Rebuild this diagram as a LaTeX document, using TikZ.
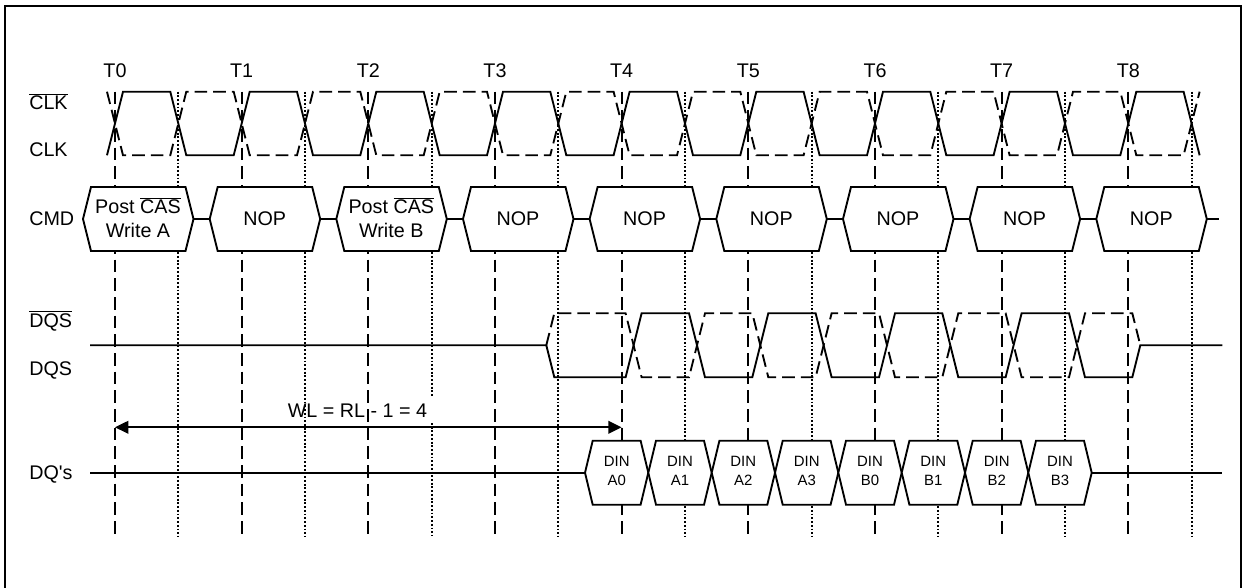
\documentclass[tikz,border=0pt]{standalone}
\usepackage{fontspec}
\setmainfont{Liberation Sans}
\usepackage{tikz}
\usetikzlibrary{arrows.meta}
\newcommand{\barsig}[1]{$\overline{\mbox{#1}}$}

\begin{document}
\begin{tikzpicture}[x=0.75pt,y=0.75pt,yscale=-1,xscale=1,
  sigline/.style={line width=1.4pt, line join=miter},
  sigdash/.style={line width=1.4pt, dash pattern=on 9.5pt off 4.5pt},
  tickline/.style={line width=1.4pt, dash pattern=on 9.5pt off 4.5pt},
  halfline/.style={line width=1.4pt, dash pattern=on 1.4pt off 1.4pt},
  busbox/.style={line width=1.4pt, fill=white, line join=miter},
  lbl/.style={inner sep=0.75pt, font=\fontsize{14.8}{17.5}\selectfont},
  cmdlbl/.style={lbl, align=center},
  dinlbl/.style={inner sep=0.75pt, align=center, font=\fontsize{11.2}{14.25}\selectfont},
  wlarrow/.style={line width=1.4pt, {Triangle[length=10pt,width=9.5pt]}-{Triangle[length=10pt,width=9.5pt]}}]
\useasboundingbox (0,0) rectangle (1244,588);

%Frame
\draw [line width=2pt] (5,588) -- (5,6) -- (1241,6) -- (1241,588) ;

%Clock edge lines
\draw [tickline] (115,91.7) -- (115,536) ;
\draw [halfline] (178.3,91.7) -- (178.3,536) ;
\draw [tickline] (241.7,91.7) -- (241.7,536) ;
\draw [halfline] (305,91.7) -- (305,536) ;
\draw [tickline] (368.3,91.7) -- (368.3,536) ;
\draw [halfline] (431.7,91.7) -- (431.7,396.7) ;
\draw [halfline] (431.7,423) -- (431.7,536) ;
\draw [tickline] (495,91.7) -- (495,536) ;
\draw [halfline] (558.3,91.7) -- (558.3,536) ;
\draw [tickline] (621.6,91.7) -- (621.6,536) ;
\draw [halfline] (685,91.7) -- (685,536) ;
\draw [tickline] (748.3,91.7) -- (748.3,536) ;
\draw [halfline] (811.6,91.7) -- (811.6,536) ;
\draw [tickline] (875,91.7) -- (875,536) ;
\draw [halfline] (938.3,91.7) -- (938.3,536) ;
\draw [tickline] (1001.6,91.7) -- (1001.6,536) ;
\draw [halfline] (1065,91.7) -- (1065,536) ;
\draw [tickline] (1128.3,91.7) -- (1128.3,536) ;
\draw [halfline] (1191.6,91.7) -- (1191.6,536) ;

%CLK (solid)
\draw [sigline] (107,155.3) -- (123,91.7) -- (170.3,91.7) -- (186.3,155.3) -- (233.7,155.3) -- (249.7,91.7) -- (297,91.7) -- (313,155.3) -- (360.3,155.3) -- (376.3,91.7) -- (423.7,91.7) -- (439.7,155.3) -- (487,155.3) -- (503,91.7) -- (550.3,91.7) -- (566.3,155.3) -- (613.6,155.3) -- (629.6,91.7) -- (677,91.7) -- (693,155.3) -- (740.3,155.3) -- (756.3,91.7) -- (803.6,91.7) -- (819.6,155.3) -- (867,155.3) -- (883,91.7) -- (930.3,91.7) -- (946.3,155.3) -- (993.6,155.3) -- (1009.6,91.7) -- (1057,91.7) -- (1073,155.3) -- (1120.3,155.3) -- (1136.3,91.7) -- (1183.6,91.7) -- (1199.6,155.3) ;
%CLK (dashed)
\draw [sigdash] (107,91.7) -- (123,155.3) -- (170.3,155.3) -- (186.3,91.7) -- (233.7,91.7) -- (249.7,155.3) -- (297,155.3) -- (313,91.7) -- (360.3,91.7) -- (376.3,155.3) -- (423.7,155.3) -- (439.7,91.7) -- (487,91.7) -- (503,155.3) -- (550.3,155.3) -- (566.3,91.7) -- (613.6,91.7) -- (629.6,155.3) -- (677,155.3) -- (693,91.7) -- (740.3,91.7) -- (756.3,155.3) -- (803.6,155.3) -- (819.6,91.7) -- (867,91.7) -- (883,155.3) -- (930.3,155.3) -- (946.3,91.7) -- (993.6,91.7) -- (1009.6,155.3) -- (1057,155.3) -- (1073,91.7) -- (1120.3,91.7) -- (1136.3,155.3) -- (1183.6,155.3) -- (1199.6,91.7) ;

%CMD bus
\draw [sigline] (83,219) -- (1219,219) ;
\draw [busbox] (83,219) -- (91,187) -- (185.5,187) -- (193.5,219) -- (185.5,251) -- (91,251) -- cycle ;
\draw [busbox] (209.7,219) -- (217.7,187) -- (312.2,187) -- (320.2,219) -- (312.2,251) -- (217.7,251) -- cycle ;
\draw [busbox] (336.3,219) -- (344.3,187) -- (438.8,187) -- (446.8,219) -- (438.8,251) -- (344.3,251) -- cycle ;
\draw [busbox] (463,219) -- (471,187) -- (565.5,187) -- (573.5,219) -- (565.5,251) -- (471,251) -- cycle ;
\draw [busbox] (589.6,219) -- (597.6,187) -- (692.1,187) -- (700.1,219) -- (692.1,251) -- (597.6,251) -- cycle ;
\draw [busbox] (716.3,219) -- (724.3,187) -- (818.8,187) -- (826.8,219) -- (818.8,251) -- (724.3,251) -- cycle ;
\draw [busbox] (843,219) -- (851,187) -- (945.5,187) -- (953.5,219) -- (945.5,251) -- (851,251) -- cycle ;
\draw [busbox] (969.6,219) -- (977.6,187) -- (1072.1,187) -- (1080.1,219) -- (1072.1,251) -- (977.6,251) -- cycle ;
\draw [busbox] (1096.3,219) -- (1104.3,187) -- (1198.8,187) -- (1206.8,219) -- (1198.8,251) -- (1104.3,251) -- cycle ;

% Text Node
\node (cmd0) [cmdlbl] at (138,217.5) {Post \barsig{CAS}\\Write A};
\node (cmd1) [cmdlbl] at (264.7,219) {NOP};
\node (cmd2) [cmdlbl] at (391.3,217.5) {Post \barsig{CAS}\\Write B};
\node (cmd3) [cmdlbl] at (518,219) {NOP};
\node (cmd4) [cmdlbl] at (644.6,219) {NOP};
\node (cmd5) [cmdlbl] at (771.3,219) {NOP};
\node (cmd6) [cmdlbl] at (898,219) {NOP};
\node (cmd7) [cmdlbl] at (1024.6,219) {NOP};
\node (cmd8) [cmdlbl] at (1151.3,219) {NOP};

%DQS (solid)
\draw [sigline] (90,345.3) -- (546.3,345.3) -- (554.3,377.3) -- (625.6,377.3) -- (641.6,313.3) -- (689,313.3) -- (705,377.3) -- (752.3,377.3) -- (768.3,313.3) -- (815.6,313.3) -- (831.6,377.3) -- (879,377.3) -- (895,313.3) -- (942.3,313.3) -- (958.3,377.3) -- (1005.6,377.3) -- (1021.6,313.3) -- (1069,313.3) -- (1085,377.3) -- (1132.3,377.3) -- (1140.3,345.3) -- (1222.3,345.3) ;
%DQS (dashed)
\draw [sigdash] (546.3,345.3) -- (554.3,313.3) -- (625.6,313.3) -- (641.6,377.3) -- (689,377.3) -- (705,313.3) -- (752.3,313.3) -- (768.3,377.3) -- (815.6,377.3) -- (831.6,313.3) -- (879,313.3) -- (895,377.3) -- (942.3,377.3) -- (958.3,313.3) -- (1005.6,313.3) -- (1021.6,377.3) -- (1069,377.3) -- (1085,313.3) -- (1132.3,313.3) -- (1140.3,345.3) ;

%DQ bus
\draw [sigline] (90,472.7) -- (1222.3,472.7) ;
\draw [busbox] (585,472.7) -- (592.7,440.7) -- (640.6,440.7) -- (648.3,472.7) -- (640.6,504.7) -- (592.7,504.7) -- cycle ;
\draw [busbox] (648.3,472.7) -- (656,440.7) -- (704,440.7) -- (711.7,472.7) -- (704,504.7) -- (656,504.7) -- cycle ;
\draw [busbox] (711.7,472.7) -- (719.4,440.7) -- (767.3,440.7) -- (775,472.7) -- (767.3,504.7) -- (719.4,504.7) -- cycle ;
\draw [busbox] (775,472.7) -- (782.7,440.7) -- (830.6,440.7) -- (838.3,472.7) -- (830.6,504.7) -- (782.7,504.7) -- cycle ;
\draw [busbox] (838.3,472.7) -- (846,440.7) -- (894,440.7) -- (901.7,472.7) -- (894,504.7) -- (846,504.7) -- cycle ;
\draw [busbox] (901.7,472.7) -- (909.4,440.7) -- (957.3,440.7) -- (965,472.7) -- (957.3,504.7) -- (909.4,504.7) -- cycle ;
\draw [busbox] (965,472.7) -- (972.7,440.7) -- (1020.6,440.7) -- (1028.3,472.7) -- (1020.6,504.7) -- (972.7,504.7) -- cycle ;
\draw [busbox] (1028.3,472.7) -- (1036,440.7) -- (1084,440.7) -- (1091.7,472.7) -- (1084,504.7) -- (1036,504.7) -- cycle ;

% Text Node
\node (din0) [dinlbl] at (616.7,471) {DIN\\A0};
\node (din1) [dinlbl] at (680,471) {DIN\\A1};
\node (din2) [dinlbl] at (743.3,471) {DIN\\A2};
\node (din3) [dinlbl] at (806.7,471) {DIN\\A3};
\node (din4) [dinlbl] at (870,471) {DIN\\B0};
\node (din5) [dinlbl] at (933.3,471) {DIN\\B1};
\node (din6) [dinlbl] at (996.7,471) {DIN\\B2};
\node (din7) [dinlbl] at (1060,471) {DIN\\B3};

%Write latency
\coordinate (wlstart) at (115,427.3);
\coordinate (wlend) at (621.6,427.3);
\draw [wlarrow] (wlstart) -- (wlend) ;
\node (wl) [lbl, anchor=base] at (357.5,417.3) {WL = RL - 1 = 4};

% Text Node
\node (t0) [lbl, anchor=base] at (115,77.3) {T0};
\node (t1) [lbl, anchor=base] at (241.7,77.3) {T1};
\node (t2) [lbl, anchor=base] at (368.3,77.3) {T2};
\node (t3) [lbl, anchor=base] at (495,77.3) {T3};
\node (t4) [lbl, anchor=base] at (621.6,77.3) {T4};
\node (t5) [lbl, anchor=base] at (748.3,77.3) {T5};
\node (t6) [lbl, anchor=base] at (875,77.3) {T6};
\node (t7) [lbl, anchor=base] at (1001.6,77.3) {T7};
\node (t8) [lbl, anchor=base] at (1128.3,77.3) {T8};

% Text Node
\node (lclkb) [lbl, anchor=base west] at (28,110) {\barsig{CLK}};
\node (lclk) [lbl, anchor=base west] at (28,156.7) {CLK};
\node (lcmd) [lbl, anchor=base west] at (28,225.7) {CMD};
\node (ldqsb) [lbl, anchor=base west] at (28,327) {\barsig{DQS}};
\node (ldqs) [lbl, anchor=base west] at (28,375.5) {DQS};
\node (ldq) [lbl, anchor=base west] at (28,479.3) {DQ\textquotesingle s};

\end{tikzpicture}
\end{document}
